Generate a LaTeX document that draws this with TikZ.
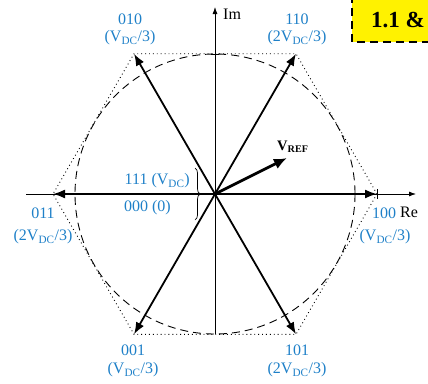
\documentclass[tikz,border=0pt]{standalone}
\usepackage{fontspec}
\setmainfont{Liberation Serif}
\usetikzlibrary{arrows.meta,decorations.pathreplacing}
\definecolor{lblue}{RGB}{30,128,200}
\begin{document}
\begin{tikzpicture}[x=1pt,y=-1pt,
  lab/.style={text=lblue,font=\fontsize{16}{18}\selectfont,inner sep=0pt,align=center},
  axislab/.style={text=black,font=\fontsize{16}{18}\selectfont,inner sep=0pt},
  axisline/.style={line width=0.8pt,-{Latex[length=7pt,width=5pt]}},
  vec/.style={line width=1.8pt,-{Latex[length=12pt,width=9pt]}},
  refvec/.style={line width=2.8pt,-{Latex[length=13pt,width=11pt]}},
  hexl/.style={line width=0.9pt,dash pattern=on 0.9pt off 3pt},
  circ/.style={line width=0.9pt,dash pattern=on 8pt off 5pt},
  tick/.style={line width=0.8pt}]
\clip (0,0) rectangle (428,383);
% coordinates
\coordinate (O) at (215,194);
\coordinate (v100) at (377,194);
\coordinate (v110) at (296,53.7);
\coordinate (v010) at (134,53.7);
\coordinate (v011) at (53,194);
\coordinate (v001) at (134,334.3);
\coordinate (v101) at (296,334.3);
\coordinate (xs) at (26,194);
\coordinate (xe) at (416,194);
\coordinate (ys) at (215,334);
\coordinate (ye) at (215,7);
\coordinate (vref) at (287,158);
% hexagon and circle
\draw[hexl] (v100) -- (v110) -- (v010) -- (v011) -- (v001) -- (v101) -- cycle;
\draw[circ] (O) circle[radius=140];
% axes
\draw[axisline] (xs) -- (xe);
\draw[axisline] (ys) -- (ye);
\draw[tick] (211,54) -- (219,54);
\draw[tick] (377,189) -- (377,199);
% vectors
\foreach \v in {v100,v110,v010,v011,v001,v101}
  \draw[vec] (O) -- (\v);
\draw[refvec] (O) -- (vref);
% labels
\node[axislab,anchor=west] (im) at (223,14) {Im};
\node[lab] (l010) at (130,19) {010};
\node[lab] (l010b) at (130,38) {(V\textsubscript{DC}/3)};
\node[lab] (l110) at (297,19) {110};
\node[lab] (l110b) at (297,38) {(2V\textsubscript{DC}/3)};
\node[lab] (l011) at (43,213) {011};
\node[lab] (l011b) at (43,237) {(2V\textsubscript{DC}/3)};
\node[lab,anchor=west] (l100) at (372,213) {100};
\node[lab] (l100b) at (385,237) {(V\textsubscript{DC}/3)};
\node[lab] (l001) at (133,350) {001};
\node[lab] (l001b) at (133,370) {(V\textsubscript{DC}/3)};
\node[lab] (l101) at (297,350) {101};
\node[lab] (l101b) at (297,370) {(2V\textsubscript{DC}/3)};
\node[axislab,anchor=west,fill=white,inner xsep=2pt] (re) at (398,212) {Re};
\node[lab,anchor=east] (l111) at (190,181) {111 (V\textsubscript{DC})};
\node[lab,anchor=east] (l000) at (171,208) {000 (0)};
\draw[line width=0.7pt,decorate,decoration={brace,amplitude=5pt}] (195,168) -- (195,220);
\node[inner sep=0pt,anchor=west,font=\fontsize{14.5}{16}\selectfont\bfseries] (lref) at (277,147) {V\textsubscript{REF}};
% title box
\draw[fill=yellow,line width=1.5pt,dash pattern=on 8pt off 5pt] (352,-5) rectangle (470,42);
\node[inner sep=0pt,anchor=west,font=\fontsize{23}{25}\selectfont\bfseries] (title) at (371,20) {1.1 \&};
\end{tikzpicture}
\end{document}
